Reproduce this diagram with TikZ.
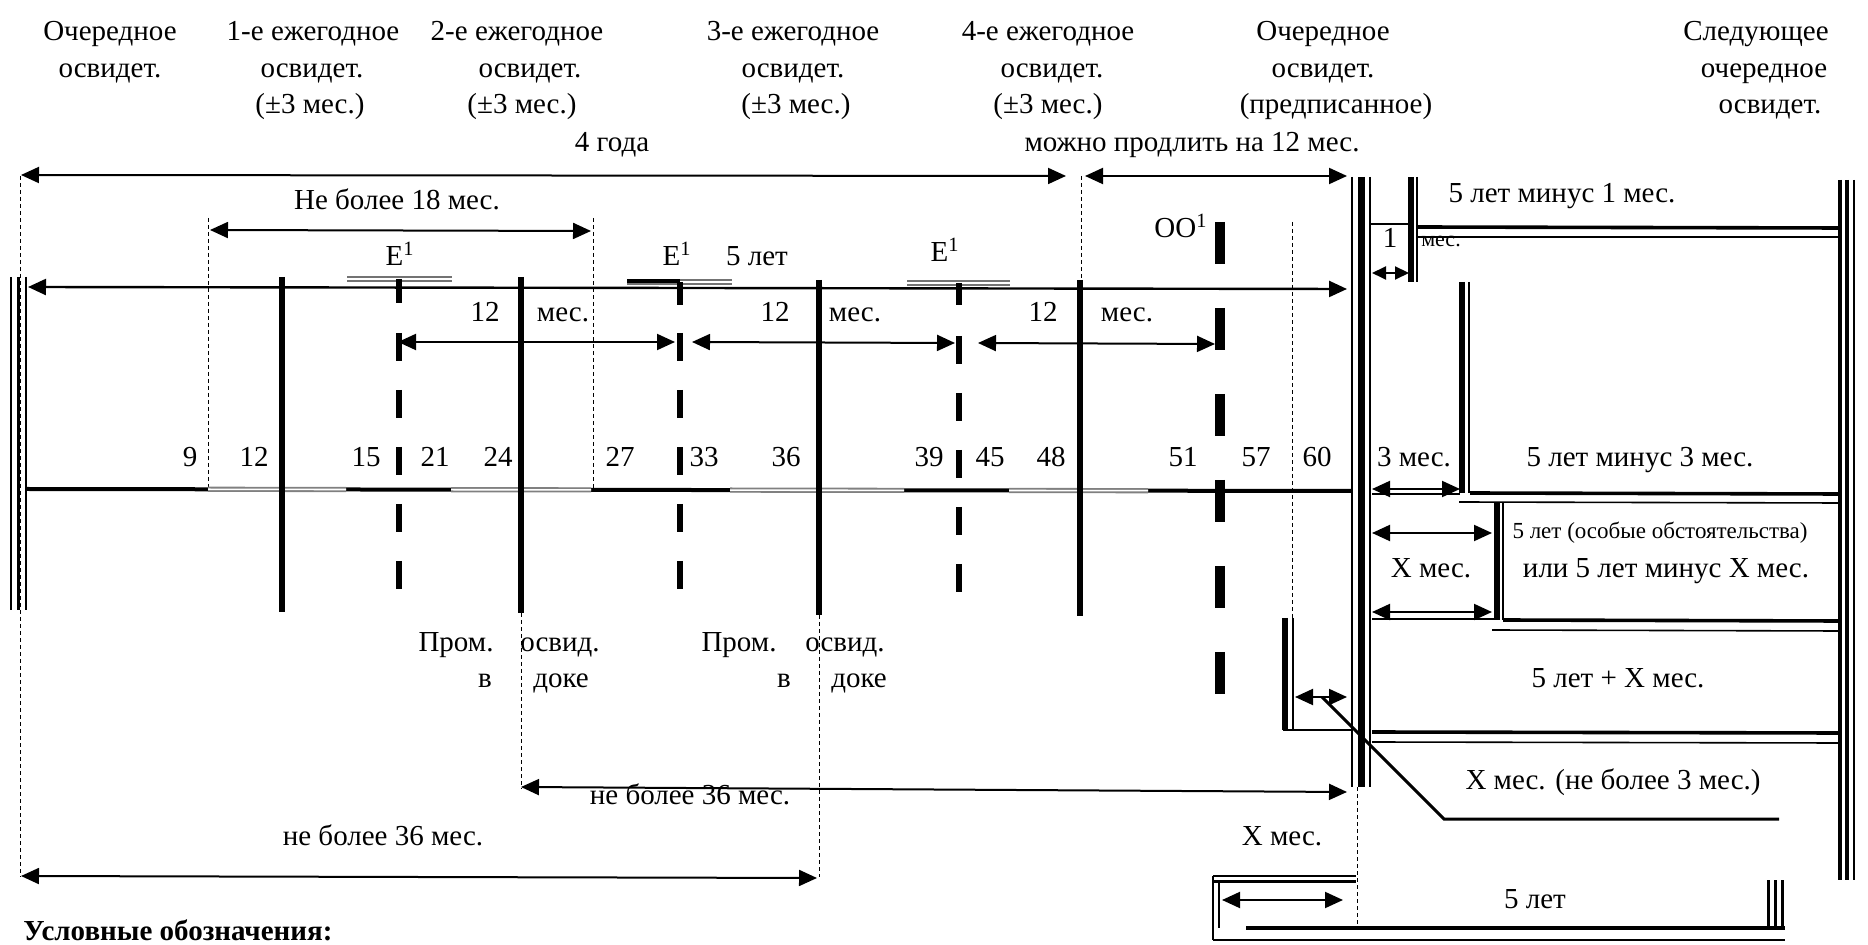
\documentclass[tikz,border=0pt]{standalone}
\usepackage{fontspec}
\setmainfont{Liberation Serif}
\usetikzlibrary{arrows.meta}
\begin{document}
\begin{tikzpicture}[x=0.5pt,y=-0.5pt,
  lbl/.style={font=\fontsize{14.5}{16}\selectfont, inner sep=0pt, anchor=base},
  small/.style={font=\fontsize{11}{12}\selectfont, inner sep=0pt, anchor=base},
  dbl/.style={line width=1pt,{Triangle[length=9pt,width=8pt]}-{Triangle[length=9pt,width=8pt]}},
  sdbl/.style={line width=1pt,{Triangle[length=7pt,width=6.5pt]}-{Triangle[length=7pt,width=6.5pt]}},
  thickv/.style={line width=3pt},
  dashv/.style={line width=3pt, dash pattern=on 14pt off 14.5pt},
  oodash/.style={line width=5pt, dash pattern=on 21pt off 22pt},
  dots/.style={line width=0.5pt, dash pattern=on 2pt off 1.5pt},
  win/.style={draw=black!50, double=white, double distance=0.8pt, line width=0.9pt},
  ebar/.style={draw=black!55, double=white, double distance=0.8pt, line width=0.9pt},
  thin/.style={line width=0.8pt},
  mid/.style={line width=1.8pt}
]
\useasboundingbox (0,0) rectangle (1868,945);

% ---------- header texts ----------
\node[lbl] (h1a) at (110,41) {Очередное};
\node[lbl] (h1b) at (110,78) {освидет.};
\node[lbl] (h2a) at (313,41) {1-е ежегодное};
\node[lbl] (h2b) at (312,78) {освидет.};
\node[lbl] (h2c) at (310,114) {(±3 мес.)};
\node[lbl] (h3a) at (517,41) {2-е ежегодное};
\node[lbl] (h3b) at (530,78) {освидет.};
\node[lbl] (h3c) at (522,114) {(±3 мес.)};
\node[lbl] (h4a) at (793,41) {3-е ежегодное};
\node[lbl] (h4b) at (793,78) {освидет.};
\node[lbl] (h4c) at (796,114) {(±3 мес.)};
\node[lbl] (h5a) at (1048,41) {4-е ежегодное};
\node[lbl] (h5b) at (1052,78) {освидет.};
\node[lbl] (h5c) at (1048,114) {(±3 мес.)};
\node[lbl] (h6a) at (1323,41) {Очередное};
\node[lbl] (h6b) at (1323,78) {освидет.};
\node[lbl] (h6c) at (1336,114) {(предписанное)};
\node[lbl] (h7a) at (1756,41) {Следующее};
\node[lbl] (h7b) at (1764,78) {очередное};
\node[lbl] (h7c) at (1770,114) {освидет.};

\node[lbl] (t4g) at (612,152) {4 года};
\node[lbl] (tmp) at (1192,152) {можно продлить на 12 мес.};
\node[lbl] (t18) at (397,210) {Не более 18 мес.};

% ---------- left bar ----------
\draw[line width=1.2pt] (11,277) -- (11,610);
\draw[line width=1.5pt] (18.5,277) -- (18.5,610);
\draw[line width=1.2pt] (26,277) -- (26,610);

% ---------- dotted guides ----------
\draw[dots] (20,176) -- (20,877);
\draw[dots] (208,218) -- (208,489);
\draw[dots] (593,218) -- (593,489);
\draw[dots] (1081,176) -- (1081,280);
\draw[dots] (1292,222) -- (1292,618);
\draw[dots] (521,613) -- (521,789);
\draw[dots] (819,615) -- (819,877);
\draw[dots] (1357,787) -- (1357,925);

% ---------- top arrows ----------
\draw[dbl] (21,175) -- (1066,176);
\draw[dbl] (1085,176) -- (1347,176);
\draw[dbl] (210,230) -- (591,231);
\draw[dbl,line width=1.2pt] (28,287) -- (1347,289);

% ---------- main timeline ----------
\draw[line width=2pt] (27,489) -- (1351,491);
\draw[win] (208,489.3) -- (346,489.5);
\draw[win] (451,489.7) -- (591,489.9);
\draw[win] (730,490.1) -- (904,490.4);
\draw[win] (1009,490.5) -- (1148,490.7);

% ---------- solid survey lines ----------
\draw[thickv] (282,277) -- (282,612);
\draw[thickv] (521,277) -- (521,613);
\draw[thickv] (819,280) -- (819,615);
\draw[thickv] (1080,280) -- (1080,616);

% ---------- E markers and dashed lines ----------
\draw[ebar] (347,279) -- (452,279);
\draw[ebar] (627,282) -- (732,282);
\draw[line width=2pt] (627,281) -- (680,281);
\draw[ebar] (907,283) -- (1010,283);
\draw[thickv] (399,279) -- (399,303);
\draw[thickv] (680,282) -- (680,305);
\draw[thickv] (959,283) -- (959,305);
\draw[dashv] (399,333) -- (399,592);
\draw[dashv] (680,333) -- (680,594);
\draw[dashv] (959,336) -- (959,596);
\draw[oodash] (1220,222) -- (1220,696);

\node[lbl] (e1) at (400,266) {E\textsuperscript{1}};
\node[lbl] (e2) at (677,266) {E\textsuperscript{1}};
\node[lbl] (e3) at (945,262) {E\textsuperscript{1}};
\node[lbl] (t5a) at (757,266) {5 лет};
\node[lbl] (oo) at (1181,238) {ОО\textsuperscript{1}};

% ---------- 12-month arrows ----------
\draw[dbl] (398,342) -- (675,342);
\draw[dbl] (692,342) -- (955,343);
\draw[dbl] (978,343) -- (1215,344);
\node[lbl] (m1a) at (485,322) {12};
\node[lbl] (m1b) at (563,322) {мес.};
\node[lbl] (m2a) at (775,322) {12};
\node[lbl] (m2b) at (855,322) {мес.};
\node[lbl] (m3a) at (1043,322) {12};
\node[lbl] (m3b) at (1127,322) {мес.};

% ---------- month numbers ----------
\foreach \n/\xx in {9/190,12/254,15/366,21/435,24/498,27/620,33/704,36/786,39/929,45/990,48/1051,51/1183,57/1256,60/1317}
  \node[lbl] (n\n) at (\xx,467) {\n};

% ---------- lower texts ----------
\node[lbl] (p1a) at (456,652) {Пром.};
\node[lbl] (p1b) at (560,652) {освид.};
\node[lbl] (p1c) at (485,688) {в};
\node[lbl] (p1d) at (561,688) {доке};
\node[lbl] (p2a) at (739,652) {Пром.};
\node[lbl] (p2b) at (845,652) {освид.};
\node[lbl] (p2c) at (784,688) {в};
\node[lbl] (p2d) at (859,688) {доке};

\draw[dbl] (521,787) -- (1347,792);
\node[lbl] (nb1) at (690,804) {не более 36 мес.};
\draw[dbl] (21,876) -- (817,878);
\node[lbl] (nb2) at (383,845) {не более 36 мес.};

\node[lbl, anchor=base west, font=\fontsize{14.5}{16}\selectfont\bfseries] (leg) at (23,940) {Условные обозначения:};

% ---------- big double bar ----------
\draw[thin] (1352,177) -- (1352,787);
\draw[line width=3.5pt] (1361,177) -- (1361,787);
\draw[thin] (1370,177) -- (1370,787);

% ---------- right triple bar ----------
\draw[line width=2pt] (1840,180) -- (1840,880);
\draw[line width=2pt] (1847,180) -- (1847,880);
\draw[line width=1pt] (1854,180) -- (1854,880);

% ---------- 1 month block ----------
\draw[thickv] (1411,177) -- (1411,282);
\draw[thin] (1417,177) -- (1417,282);
\draw[thin] (1370,224) -- (1409,224);
\draw[mid] (1418,227) -- (1840,228);
\draw[thin] (1418,237) -- (1840,237);
\draw[sdbl] (1372,273) -- (1409,273);
\node[lbl] (t51) at (1562,203) {5 лет минус 1 мес.};
\node[lbl] (one) at (1390,248) {1};
\node[small] (onem) at (1441,247) {мес.};

% ---------- 3 month block ----------
\draw[thickv] (1462,282) -- (1462,493);
\draw[thin] (1469,282) -- (1469,493);
\draw[mid] (1470,493) -- (1840,494);
\draw[dbl] (1372,489) -- (1460,489);
\draw[thin] (1372,494) -- (1460,494);
\draw[thin] (1459,502) -- (1840,503);
\node[lbl] (t3m) at (1414,467) {3 мес.};
\node[lbl] (t53) at (1640,467) {5 лет минус 3 мес.};

% ---------- X month block ----------
\draw[thickv] (1497,503) -- (1497,620);
\draw[thin] (1503,503) -- (1503,620);
\draw[dbl] (1372,533) -- (1492,533);
\draw[dbl] (1372,612) -- (1492,612);
\draw[thin] (1372,619) -- (1496,619);
\draw[mid] (1503,620) -- (1840,621);
\draw[thin] (1492,630) -- (1840,631);
\node[lbl] (txm) at (1431,578) {Х мес.};
\node[lbl, font=\fontsize{11.5}{13}\selectfont] (tos) at (1660,539) {5 лет (особые обстоятельства)};
\node[lbl] (tili) at (1666,578) {или 5 лет минус Х мес.};

% ---------- 5 years + X block ----------
\draw[mid] (1372,732) -- (1840,733);
\draw[thin] (1372,742) -- (1840,743);
\node[lbl] (tpx) at (1618,688) {5 лет + Х мес.};

% ---------- early survey X month ----------
\draw[thickv] (1285,618) -- (1285,730);
\draw[thin] (1293,618) -- (1293,730);
\draw[line width=1.2pt] (1283,730) -- (1352,730);
\draw[dbl] (1295,697) -- (1347,697);
\draw[line width=1.5pt] (1322,697) -- (1444,819) -- (1779,819);
\node[lbl] (tx3) at (1613,790) {Х мес. (не более 3 мес.)};

% ---------- bottom 5 years box ----------
\draw[line width=0.6pt] (1213,876) -- (1356,876);
\draw[line width=1.5pt] (1213,881) -- (1356,881);
\draw[line width=1.2pt] (1213,876) -- (1213,940);
\draw[thin] (1219,881) -- (1219,928);
\draw[mid] (1246,928) -- (1785,928);
\draw[thin] (1213,940) -- (1785,940);
\draw[line width=1.5pt] (1768,880) -- (1768,928);
\draw[line width=1.5pt] (1775,880) -- (1775,928);
\draw[line width=1.5pt] (1782,880) -- (1782,928);
\draw[dbl] (1222,900) -- (1343,900);
\node[lbl] (txb) at (1282,845) {Х мес.};
\node[lbl] (t5b) at (1535,908) {5 лет};

\end{tikzpicture}
\end{document}
